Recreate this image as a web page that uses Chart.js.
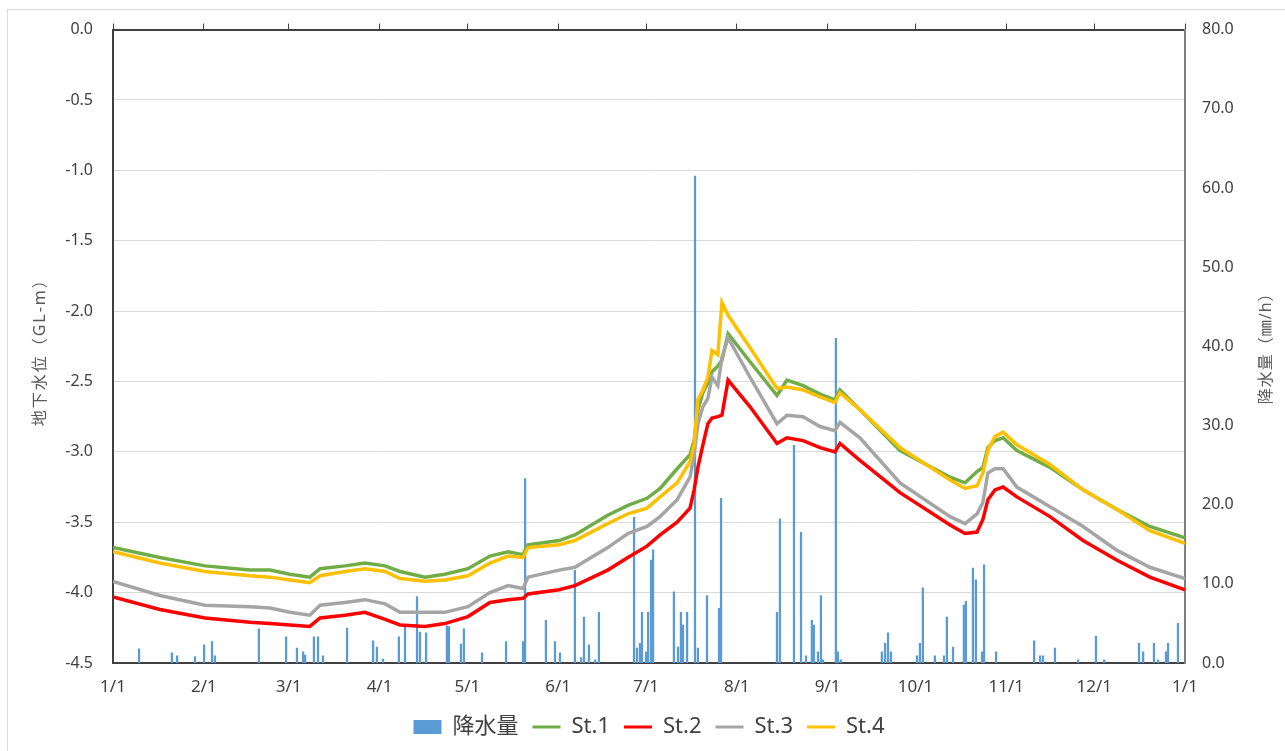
<!DOCTYPE html>
<html>
<head>
<meta charset="utf-8">
<script src="https://cdn.jsdelivr.net/npm/chart.js@4.4.1/dist/chart.umd.min.js"></script>
<style>
  html, body { margin:0; padding:0; background:#fff; }
  canvas { display:block; }
</style>
</head>
<body>
<canvas id="c" width="1285" height="751"></canvas>
<script>
const FONT = '"Noto Sans", "Noto Sans CJK JP", sans-serif';

// day of year (leap year) for each month start, and its label
const monthDays = [0,31,60,91,121,152,182,213,244,274,305,335,366];
const monthLabels = ['1/1','2/1','3/1','4/1','5/1','6/1','7/1','8/1','9/1','10/1','11/1','12/1','1/1'];

// groundwater level (GL-m)
const days = [0,16,31.4,46.8,53.6,60.4,67.2,70.7,79.2,86,92.9,98,106.5,113.3,121.2,128.7,134.9,140,141.7,152.3,
  157.7,168.9,175.8,182.3,186.8,192.6,197,198.4,199.7,201.4,203.1,204.5,206.5,207.9,210,217.5,226.7,230.1,235.6,241.4,
  246.5,248.2,255,268.7,285.8,290.9,295,297,298.7,301.1,303.9,308.6,319.9,331.2,342.8,354,366];
const st1 = [-3.68,-3.75,-3.81,-3.84,-3.84,-3.87,-3.89,-3.83,-3.81,-3.79,-3.81,-3.85,-3.89,-3.87,-3.83,-3.74,-3.71,-3.73,-3.66,-3.63,
  -3.59,-3.45,-3.38,-3.33,-3.26,-3.12,-3.02,-2.92,-2.70,-2.58,-2.51,-2.43,-2.39,-2.35,-2.16,-2.36,-2.60,-2.49,-2.53,-2.59,
  -2.63,-2.56,-2.70,-2.99,-3.18,-3.22,-3.14,-3.11,-2.97,-2.92,-2.90,-2.99,-3.11,-3.27,-3.41,-3.53,-3.61];
const st2 = [-4.03,-4.12,-4.18,-4.21,-4.22,-4.23,-4.24,-4.18,-4.16,-4.14,-4.19,-4.23,-4.24,-4.22,-4.17,-4.07,-4.05,-4.04,-4.01,-3.98,
  -3.95,-3.84,-3.75,-3.67,-3.59,-3.50,-3.40,-3.27,-3.11,-2.95,-2.80,-2.76,-2.75,-2.74,-2.49,-2.68,-2.94,-2.90,-2.92,-2.97,
  -3.00,-2.94,-3.06,-3.29,-3.52,-3.58,-3.57,-3.48,-3.34,-3.27,-3.25,-3.32,-3.46,-3.63,-3.77,-3.89,-3.98];
const st3 = [-3.92,-4.02,-4.09,-4.10,-4.11,-4.14,-4.16,-4.09,-4.07,-4.05,-4.08,-4.14,-4.14,-4.14,-4.10,-4.00,-3.95,-3.97,-3.89,-3.84,
  -3.82,-3.68,-3.58,-3.53,-3.46,-3.34,-3.18,-3.02,-2.80,-2.68,-2.62,-2.47,-2.53,-2.33,-2.19,-2.47,-2.80,-2.74,-2.75,-2.82,
  -2.85,-2.79,-2.90,-3.22,-3.46,-3.51,-3.44,-3.36,-3.15,-3.12,-3.12,-3.25,-3.39,-3.53,-3.70,-3.82,-3.90];
const st4 = [-3.71,-3.79,-3.85,-3.88,-3.89,-3.91,-3.93,-3.88,-3.85,-3.83,-3.85,-3.90,-3.92,-3.91,-3.88,-3.79,-3.74,-3.75,-3.68,-3.66,
  -3.63,-3.51,-3.44,-3.40,-3.32,-3.22,-3.07,-2.95,-2.63,-2.56,-2.47,-2.28,-2.31,-1.94,-2.03,-2.26,-2.55,-2.54,-2.56,-2.61,
  -2.65,-2.58,-2.70,-2.97,-3.20,-3.26,-3.24,-3.15,-2.99,-2.89,-2.86,-2.95,-3.09,-3.27,-3.41,-3.56,-3.65];

// rainfall (mm/h)
const rainDays = [8.9,20.1,21.9,28,31.1,33.8,34.8,49.8,59.1,62.8,64.9,65.6,68.6,70,71.7,79.9,88.8,90.1,92.2,97.6,
  99.7,103.8,104.8,106.9,114,114.7,118.8,119.8,126,134.2,140,140.7,147.8,150.9,152.6,157.7,159.8,160.8,162.5,164.6,
  165.9,177.9,178.9,179.9,180.6,182,182.7,183.7,184.4,191.5,192.9,193.9,194.6,196,198.7,199.7,202.8,206.9,207.6,226.7,
  227.7,232.5,234.9,236.6,238.6,239.3,240.7,241.7,242.4,246.8,247.5,248.5,262.5,263.6,264.6,265.6,274.5,275.5,276.5,280.6,
  283.7,284.7,286.8,290.5,291.2,293.6,294.6,296.7,297.4,301.5,314.5,316.5,317.5,321.6,329.5,335.6,338.4,350.3,351.7,355.4,
  356.8,359.5,360.2,363.6];
const rainMM = [1.8,1.3,0.9,0.8,2.3,2.7,0.9,4.3,3.3,1.9,1.4,1.0,3.3,3.3,0.9,4.4,2.8,2.0,0.5,3.3,
  4.5,8.4,3.9,3.8,4.7,4.6,2.4,4.3,1.3,2.7,2.7,23.3,5.4,2.7,1.3,11.7,0.7,5.8,2.3,0.4,
  6.4,18.4,1.9,2.5,6.4,1.4,6.4,13.0,14.3,9.0,2.0,6.4,4.8,6.4,61.5,1.9,8.5,6.9,20.8,6.4,
  18.2,27.5,16.5,0.9,5.4,4.8,1.4,8.5,0.4,41.0,1.4,0.4,1.4,2.5,3.8,1.4,0.9,2.5,9.5,0.9,
  0.9,5.8,2.0,7.3,7.8,12.0,10.5,1.4,12.4,1.4,2.8,0.9,0.9,1.9,0.4,3.4,0.4,2.5,1.4,2.5,
  0.4,1.4,2.5,5.0];

const seriesNames = ['St.1','St.2','St.3','St.4'];
const seriesColors = ['#70AD47','#FF0000','#A5A5A5','#FFC000'];
const seriesValues = [st1, st2, st3, st4];
const RAIN_COLOR = '#5B9BD5';

Chart.defaults.font.family = FONT;

function monthTicks(scale){
     scale.ticks = monthDays.map(d => ({value: d}));
}

function sideTitle(ctx, text, x, y, spacing){
     ctx.save();
     ctx.fillStyle = '#595959';
     ctx.font = '16px ' + FONT;
     ctx.letterSpacing = spacing;
     ctx.textAlign = 'center';
     ctx.textBaseline = 'middle';
     ctx.translate(x, y);
     ctx.rotate(-Math.PI / 2);
     ctx.fillText(text, 0, 0);
     ctx.restore();
}

const frame = {
     id: 'frame',
     beforeDraw(chart){
          const ctx = chart.ctx;
          ctx.save();
          ctx.fillStyle = '#fff';
          ctx.fillRect(0, 0, chart.width, chart.height);
          ctx.strokeStyle = '#d9d9d9';
          ctx.lineWidth = 1;
          ctx.strokeRect(7.5, 9.5, 1300, 800);
          ctx.restore();
     },
     afterDraw(chart){
          const mid = (chart.chartArea.top + chart.chartArea.bottom) / 2;
          sideTitle(chart.ctx, '地下水位（GL-m）', 40, mid + 2, '2px');
          sideTitle(chart.ctx, '降水量（㎜/h）', 1266, mid - 2, '1px');
     }
};

const datasets = [{
     type: 'bar',
     label: '降水量',
     data: rainDays.map((d, i) => ({x: d, y: rainMM[i]})),
     backgroundColor: RAIN_COLOR,
     barThickness: 1.6,
     xAxisID: 'x',
     yAxisID: 'y2',
     order: 10
}];
seriesNames.forEach((name, k) => {
     datasets.push({
          type: 'line',
          label: name,
          data: days.map((d, i) => ({x: d, y: seriesValues[k][i]})),
          borderColor: seriesColors[k],
          backgroundColor: seriesColors[k],
          borderWidth: 3.5,
          pointRadius: 0,
          tension: 0,
          fill: false,
          xAxisID: 'x',
          yAxisID: 'y',
          order: 4 - k
     });
});

new Chart(document.getElementById('c'), {
     type: 'line',
     data: {datasets: datasets},
     plugins: [frame],
     options: {
          responsive: false,
          animation: false,
          layout: {padding: {top: 23, left: 0, right: 0, bottom: 3}},
          plugins: {
               tooltip: {enabled: false},
               legend: {
                    position: 'bottom',
                    fullSize: false,
                    labels: {
                         usePointStyle: true,
                         pointStyleWidth: 28,
                         boxHeight: 14,
                         padding: 14,
                         color: '#404040',
                         font: {size: 22},
                         generateLabels(chart){
                              return chart.data.datasets.map((ds, i) => ({
                                   text: ds.label,
                                   datasetIndex: i,
                                   pointStyle: ds.type === 'bar' ? 'rect' : 'line',
                                   fillStyle: ds.type === 'bar' ? RAIN_COLOR : ds.borderColor,
                                   strokeStyle: ds.type === 'bar' ? RAIN_COLOR : ds.borderColor,
                                   lineWidth: ds.type === 'bar' ? 0 : 3,
                                   fontColor: '#404040',
                                   hidden: false
                              }));
                         }
                    }
               }
          },
          scales: {
               x: {
                    type: 'linear',
                    position: 'bottom',
                    min: 0,
                    max: 366,
                    offset: false,
                    afterBuildTicks: monthTicks,
                    afterFit(scale){ scale.height = 39; },
                    grid: {display: false, drawTicks: false},
                    border: {display: true, color: '#404040', width: 2},
                    ticks: {
                         autoSkip: false,
                         maxRotation: 0,
                         padding: 14,
                         color: '#404040',
                         font: {size: 17},
                         callback: (v, i) => monthLabels[i]
                    }
               },
               x2: {
                    type: 'linear',
                    position: 'top',
                    min: 0,
                    max: 366,
                    offset: false,
                    afterBuildTicks: monthTicks,
                    afterFit(scale){ scale.height = 6; },
                    grid: {drawOnChartArea: false, drawTicks: true, tickLength: 6, color: '#404040', lineWidth: 1},
                    border: {display: true, color: '#404040', width: 2},
                    ticks: {display: false}
               },
               y: {
                    position: 'left',
                    min: -4.5,
                    max: 0,
                    afterFit(scale){ scale.width = 113; },
                    grid: {
                         drawTicks: false,
                         color: c => (c.tick && (c.tick.value === 0 || c.tick.value === -4.5)) ? 'rgba(0,0,0,0)' : '#d9d9d9'
                    },
                    border: {display: true, color: '#404040', width: 2},
                    ticks: {
                         stepSize: 0.5,
                         padding: 20,
                         color: '#404040',
                         font: {size: 16},
                         callback: v => Number(v).toFixed(1)
                    }
               },
               y2: {
                    position: 'right',
                    min: 0,
                    max: 80,
                    afterFit(scale){ scale.width = 100; },
                    grid: {display: false, drawTicks: false},
                    border: {display: true, color: '#7f7f7f', width: 2},
                    ticks: {
                         stepSize: 10,
                         padding: 17,
                         color: '#404040',
                         font: {size: 16},
                         callback: v => Number(v).toFixed(1)
                    }
               }
          }
     }
});
</script>
</body>
</html>
